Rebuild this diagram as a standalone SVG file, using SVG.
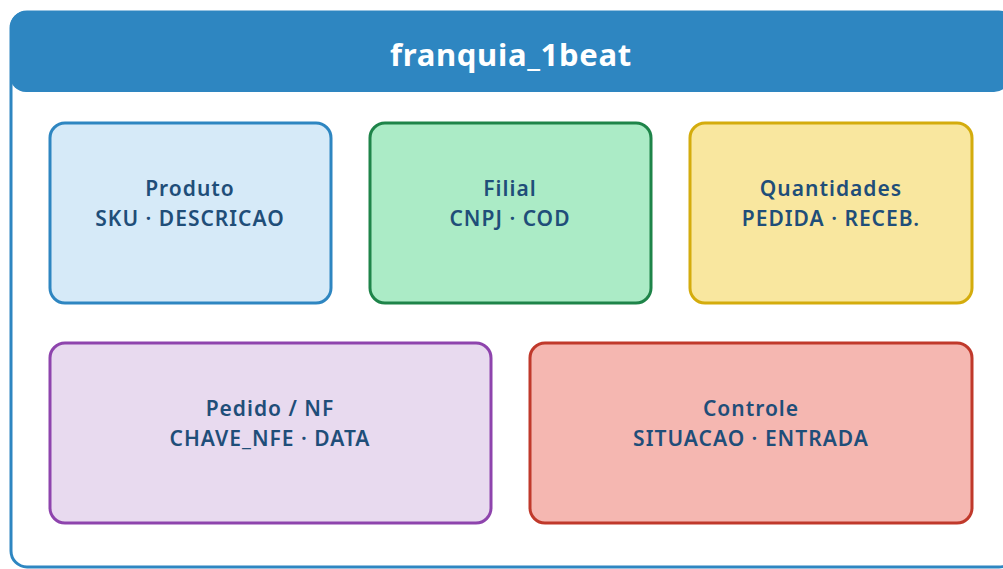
<svg xmlns="http://www.w3.org/2000/svg" width="1003" height="569" viewBox="0 0 1003 569">
<style>
.t{font-family:"Noto Sans","Open Sans","DejaVu Sans",sans-serif;font-weight:600;font-size:21px;letter-spacing:1px;fill:#1f4e79;text-anchor:middle}
.title{font-family:"Noto Sans","Open Sans","DejaVu Sans",sans-serif;font-weight:700;font-size:31px;letter-spacing:0.7px;fill:#ffffff;text-anchor:middle}
.n{stroke-width:3}
</style>
<rect width="1003" height="569" fill="#ffffff"/>
<g id="container">
<rect x="11" y="12" width="1004" height="555" rx="16" fill="#ffffff" stroke="#2e86c1" stroke-width="3"/>
<rect x="10" y="11" width="1000" height="81" rx="16" fill="#2e86c1"/>
<text class="title" x="511" y="66">franquia_1beat</text>
</g>
<g id="connectors"></g>
<g id="produto">
<rect class="n" x="50" y="123" width="281" height="180" rx="15" fill="#d6eaf8" stroke="#2e86c1"/>
<text class="t" x="190" y="196">Produto</text>
<text class="t" x="190" y="226">SKU · DESCRICAO</text>
</g>
<g id="filial">
<rect class="n" x="370" y="123" width="281" height="180" rx="15" fill="#abebc6" stroke="#1e8449"/>
<text class="t" x="510" y="196">Filial</text>
<text class="t" x="510" y="226">CNPJ · COD</text>
</g>
<g id="quantidades">
<rect class="n" x="690" y="123" width="282" height="180" rx="15" fill="#f9e79f" stroke="#d4ac0d"/>
<text class="t" x="831" y="196">Quantidades</text>
<text class="t" x="831" y="226">PEDIDA · RECEB.</text>
</g>
<g id="pedido">
<rect class="n" x="50" y="343" width="441" height="180" rx="15" fill="#e8daef" stroke="#8e44ad"/>
<text class="t" x="270" y="416">Pedido / NF</text>
<text class="t" x="270" y="446">CHAVE_NFE · DATA</text>
</g>
<g id="controle">
<rect class="n" x="530" y="343" width="442" height="180" rx="15" fill="#f5b7b1" stroke="#c0392b"/>
<text class="t" x="751" y="416">Controle</text>
<text class="t" x="751" y="446">SITUACAO · ENTRADA</text>
</g>
</svg>
